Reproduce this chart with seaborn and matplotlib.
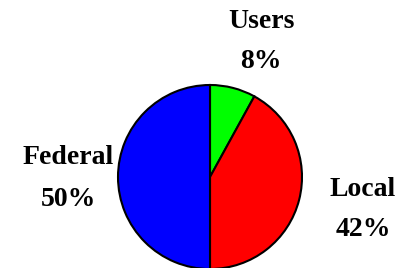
import matplotlib
matplotlib.use("Agg")
import matplotlib.pyplot as plt
import seaborn as sns

# data
categories = ["Users", "Local", "Federal"]
shares = [8, 42, 50]
colors = ["#00FF00", "#FF0000", "#0000FF"]

# label centres in pixels (x, y of name line, y of percent line)
label_pos = {"Users": (261, 22, 62), "Local": (363, 190, 230), "Federal": (68, 158, 199)}

W, H = 412, 268
CX, CY, R = 210, 177, 92

sns.set_theme(style="white")
plt.rcParams["font.family"] = ["Liberation Serif", "DejaVu Serif"]

fig = plt.figure(figsize=(W / 100, H / 100), dpi=100)
ax = fig.add_axes([(CX - R) / W, (H - CY - R) / H, 2 * R / W, 2 * R / H])
ax.pie(shares, colors=colors, startangle=90, counterclock=False,
       wedgeprops={"edgecolor": "black", "linewidth": 1.5})
ax.set_xlim(-1, 1)
ax.set_ylim(-1, 1)
ax.set_aspect("equal")
ax.axis("off")

for cat, val in zip(categories, shares):
    x, y1, y2 = label_pos[cat]
    fig.text(x / W, 1 - y1 / H, cat, ha="center", va="center",
             fontsize=20, fontweight="bold", color="black")
    fig.text(x / W, 1 - y2 / H, f"{val}%", ha="center", va="center",
             fontsize=20, fontweight="bold", color="black")

fig.savefig("out.png", dpi=100)
plt.close()
